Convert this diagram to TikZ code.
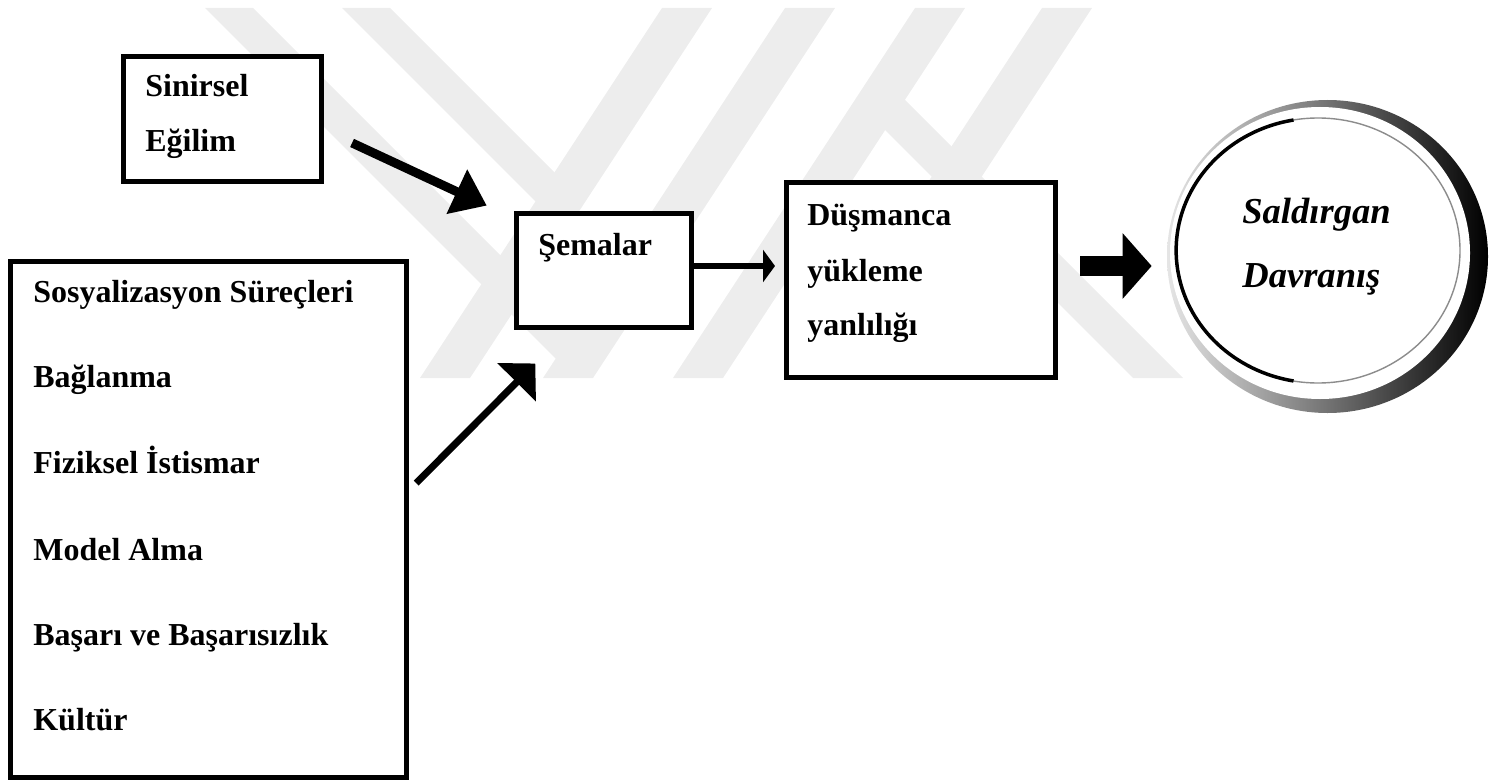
\documentclass[tikz,border=0pt]{standalone}
\usepackage{fontspec}
\setmainfont{Liberation Serif}
\usetikzlibrary{arrows.meta,shapes.geometric}

\begin{document}
\begin{tikzpicture}[
  box/.style={draw, line width=0.1cm, fill=white, inner sep=0pt},
  txt/.style={inner sep=0pt, anchor=base west, font=\fontsize{18.2}{22}\selectfont\bfseries},
  ctxt/.style={inner sep=0pt, anchor=base west, font=\fontsize{20.8}{25}\selectfont\bfseries\itshape},
  logo/.style={fill=black!7}
]
\useasboundingbox (0,0) rectangle (29.82,15.66);

% we draw the watermark in the back
\fill[logo] (4.10,15.50) -- (5.06,15.50) -- (11.80,8.76) -- (11.48,8.12) -- cycle;
\fill[logo] (6.84,15.50) -- (7.80,15.50) -- (11.44,11.86) -- (10.98,11.36) -- cycle;
\fill[logo] (13.24,15.50) -- (14.24,15.50) -- (9.40,8.10) -- (8.40,8.10) -- cycle;
\fill[logo] (15.70,15.50) -- (16.70,15.50) -- (11.86,8.10) -- (10.86,8.10) -- cycle;
\fill[logo] (18.30,15.50) -- (19.30,15.50) -- (14.46,8.10) -- (13.46,8.10) -- cycle;
\fill[logo] (20.84,15.50) -- (21.84,15.50) -- (17.00,8.10) -- (16.00,8.10) -- cycle;
\fill[logo] (17.30,13.46) -- (17.70,14.06) -- (23.66,8.10) -- (22.66,8.10) -- cycle;

% we draw the boxes
\node[box, minimum width=3.96cm, minimum height=2.48cm] (sn) at (4.44,13.28) {};
\node[box, minimum width=7.92cm, minimum height=10.32cm] (bg) at (4.16,5.28) {};
\node[box, minimum width=3.50cm, minimum height=2.28cm] (sm) at (12.07,10.26) {};
\node[box, minimum width=5.38cm, minimum height=3.90cm] (dy) at (18.41,10.07) {};

% the ring on the right
\node[ellipse, inner sep=0pt, minimum width=6.42cm, minimum height=6.26cm,
  left color=black!10, right color=black] (sd) at (26.55,10.53) {};
\fill[white] (26.40,10.60) ellipse (3.00 and 2.92);
\draw[black!45, line width=0.8pt] (26.36,10.65) ellipse (2.84 and 2.65);
\draw[line width=0.07cm] (25.87,13.26) arc[start angle=100, end angle=260, x radius=2.84, y radius=2.65];

% we add the labels
\node[txt] (sn1) at (2.90,13.72) {Sinirsel};
\node[txt] (sn2) at (2.90,12.62) {Eğilim};

\node[txt] (bg1) at (0.66,9.62) {Sosyalizasyon Süreçleri};
\node[txt] (bg2) at (0.66,7.92) {Bağlanma};
\node[txt] (bg3) at (0.66,6.20) {Fiziksel İstismar};
\node[txt] (bg4) at (0.66,4.46) {Model Alma};
\node[txt] (bg5) at (0.66,2.76) {Başarı ve Başarısızlık};
\node[txt] (bg6) at (0.66,1.06) {Kültür};

\node[txt] (sm1) at (10.76,10.56) {Şemalar};

\node[txt] (dy1) at (16.14,11.16) {Düşmanca};
\node[txt] (dy2) at (16.14,10.04) {yükleme};
\node[txt] (dy3) at (16.14,8.96) {yanlılığı};

\node[ctxt] (sd1) at (24.84,11.20) {Saldırgan};
\node[ctxt] (sd2) at (24.84,9.92) {Davranış};

% arrows into the schemas
\draw[line width=0.18cm, -{Triangle[length=0.66cm,width=0.94cm]},
  shorten <=0.63cm, shorten >=0.59cm] (sn.-6) -- (sm.150);
\draw[line width=0.14cm, -{Triangle[length=0.53cm,width=1.06cm]},
  shorten <=0.22cm, shorten >=0.96cm] (bg.8) -- (sm.-120);

% arrows to the right
\draw[line width=0.12cm, -{Triangle[length=0.24cm,width=0.64cm]},
  shorten >=0.17cm] ([yshift=0.08cm]sm.east) -- ([yshift=0.08cm]sm.east -| dy.west);
\draw[line width=0.4cm, -{Triangle[length=0.58cm,width=1.28cm]},
  shorten <=0.45cm, shorten >=0.3cm] ([yshift=0.08cm]dy.east |- sm.east) -- ([yshift=0.08cm]sd.west |- sm.east);
\end{tikzpicture}
\end{document}
